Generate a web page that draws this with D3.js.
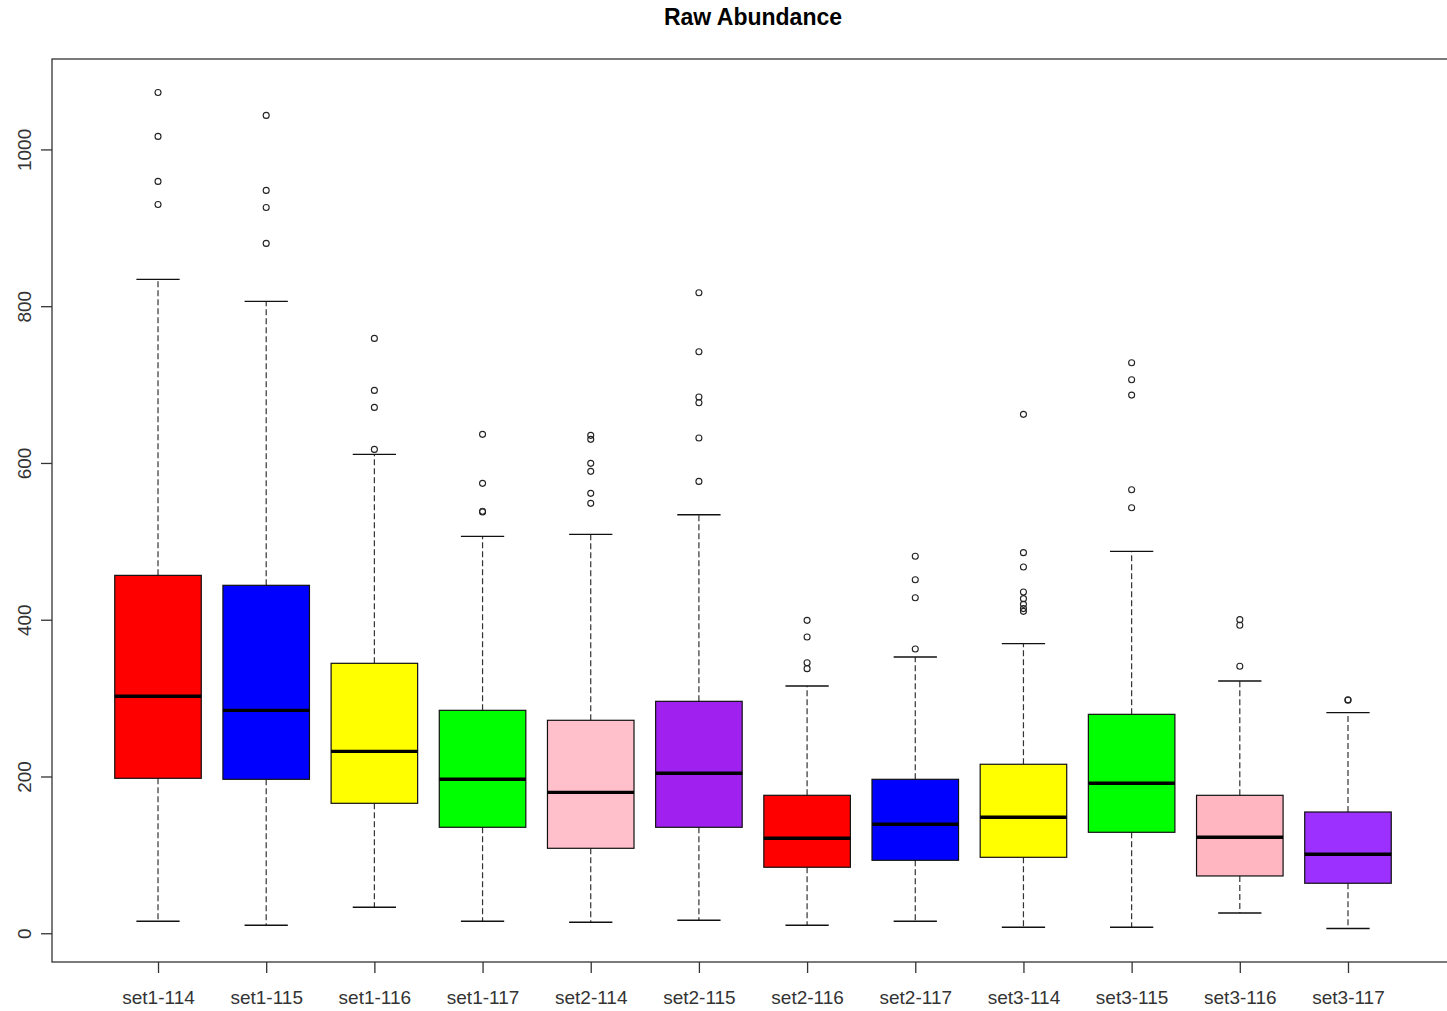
<!DOCTYPE html>
<html>
<head>
<meta charset="utf-8">
<script src="https://cdn.jsdelivr.net/npm/d3@7"></script>
<style>
  html, body { margin: 0; padding: 0; background: #fff; }
  svg { display: block; font-family: "Liberation Sans", Arial, sans-serif; }
</style>
</head>
<body>
<svg id="chart" width="1447" height="1011"></svg>
<script>
// Box-and-whisker summary of raw abundance per channel
const categories = ["set1-114","set1-115","set1-116","set1-117","set2-114","set2-115",
                    "set2-116","set2-117","set3-114","set3-115","set3-116","set3-117"];
const lowerWhisker = [15.3, 10.2, 33.2, 15.3, 14.0, 16.6, 10.2, 15.3, 7.7, 7.7, 25.9, 6.0];
const q1           = [197.7, 196.4, 165.8, 135.2, 108.4, 135.2, 84.2, 93.1, 96.9, 128.8, 73.1, 63.8];
const median       = [302.3, 284.4, 232.1, 196.4, 179.8, 204.1, 121.2, 139.0, 148.0, 191.3, 122.4, 100.8];
const q3           = [456.6, 443.9, 344.4, 284.4, 271.7, 295.9, 176.0, 196.4, 215.6, 279.3, 176.0, 154.7];
const upperWhisker = [834.2, 806.1, 611.0, 506.4, 508.9, 534.0, 315.5, 352.5, 369.5, 487.2, 321.9, 281.5];
const outliers = [
  [1072.7, 1016.6, 959.2, 929.8],
  [1043.4, 947.7, 926.0, 880.1],
  [758.9, 692.6, 670.9, 617.3],
  [636.5, 574.0, 538.3, 537.5],
  [635.2, 630.1, 599.5, 589.3, 561.2, 548.5],
  [817.2, 741.8, 684.1, 676.9, 631.8, 576.5],
  [399.2, 377.9, 345.2, 337.6],
  [480.9, 451.0, 428.1, 362.7],
  [662.0, 485.6, 467.2, 435.3, 426.9, 419.6, 414.2, 410.7],
  [727.9, 706.2, 686.6, 565.9, 542.9],
  [400.1, 392.9, 340.6],
  [297.2, 298.0]
];
const fills = ["#FF0000","#0000FF","#FFFF00","#00FF00","#FFC0CB","#A020F0",
               "#FF0000","#0000FF","#FFFF00","#00FF00","#FFB6C1","#9B30FF"];
const yTicks = [0, 200, 400, 600, 800, 1000];
const title = "Raw Abundance";

const svg = d3.select("#chart");
const plot = { left: 52, right: 1454, top: 59, bottom: 962 };

// Ranges padded 4% beyond the data, as in a base-graphics boxplot
const n = categories.length;
const allVals = lowerWhisker.concat(upperWhisker, outliers.flat());
const yMin = d3.min(allVals), yMax = d3.max(allVals);
const yPad = (yMax - yMin) * 0.04;
const xPad = n * 0.04;

const x = d3.scaleLinear().domain([0.5 - xPad, n + 0.5 + xPad]).range([plot.left, plot.right]);
const y = d3.scaleLinear().domain([yMin - yPad, yMax + yPad]).range([plot.bottom, plot.top]);

const boxHalf = x(1.4) - x(1);   // box width 0.8 units
const capHalf = boxHalf / 2;

const data = categories.map((c, i) => ({
  name: c, i: i + 1, lo: lowerWhisker[i], q1: q1[i], med: median[i], q3: q3[i],
  hi: upperWhisker[i], out: outliers[i], fill: fills[i]
}));

const g = svg.append("g");

// whiskers (dashed)
g.selectAll(".whisk-lo").data(data).join("line")
  .attr("x1", d => x(d.i)).attr("x2", d => x(d.i))
  .attr("y1", d => y(d.q1)).attr("y2", d => y(d.lo))
  .attr("stroke", "#333").attr("stroke-width", 1.2).attr("stroke-dasharray", "6,3");
g.selectAll(".whisk-hi").data(data).join("line")
  .attr("x1", d => x(d.i)).attr("x2", d => x(d.i))
  .attr("y1", d => y(d.q3)).attr("y2", d => y(d.hi))
  .attr("stroke", "#333").attr("stroke-width", 1.2).attr("stroke-dasharray", "6,3");

// staples
g.selectAll(".cap-lo").data(data).join("line")
  .attr("x1", d => x(d.i) - capHalf).attr("x2", d => x(d.i) + capHalf)
  .attr("y1", d => y(d.lo)).attr("y2", d => y(d.lo))
  .attr("stroke", "#111").attr("stroke-width", 1.4);
g.selectAll(".cap-hi").data(data).join("line")
  .attr("x1", d => x(d.i) - capHalf).attr("x2", d => x(d.i) + capHalf)
  .attr("y1", d => y(d.hi)).attr("y2", d => y(d.hi))
  .attr("stroke", "#111").attr("stroke-width", 1.4);

// boxes
g.selectAll(".box").data(data).join("rect")
  .attr("x", d => x(d.i) - boxHalf).attr("width", boxHalf * 2)
  .attr("y", d => y(d.q3)).attr("height", d => y(d.q1) - y(d.q3))
  .attr("fill", d => d.fill).attr("stroke", "#111").attr("stroke-width", 1.2);

// medians
g.selectAll(".med").data(data).join("line")
  .attr("x1", d => x(d.i) - boxHalf).attr("x2", d => x(d.i) + boxHalf)
  .attr("y1", d => y(d.med)).attr("y2", d => y(d.med))
  .attr("stroke", "#000").attr("stroke-width", 3.4);

// outliers
data.forEach(d => {
  g.selectAll(null).data(d.out).join("circle")
    .attr("cx", x(d.i)).attr("cy", v => y(v)).attr("r", 3)
    .attr("fill", "none").attr("stroke", "#222").attr("stroke-width", 1.1);
});

// frame
svg.append("rect")
  .attr("x", plot.left).attr("y", plot.top)
  .attr("width", plot.right - plot.left).attr("height", plot.bottom - plot.top)
  .attr("fill", "none").attr("stroke", "#333").attr("stroke-width", 1.3);

// y axis
const yAxis = svg.append("g").attr("transform", `translate(${plot.left},0)`)
  .call(d3.axisLeft(y).tickValues(yTicks).tickSize(11).tickFormat(d3.format("d")));
yAxis.select(".domain").remove();
yAxis.selectAll(".tick line").attr("stroke", "#333").attr("stroke-width", 1.3);
yAxis.selectAll(".tick text")
  .attr("x", null).attr("dy", null)
  .attr("transform", "translate(-21,0) rotate(-90)")
  .attr("text-anchor", "middle")
  .attr("font-family", "Liberation Sans, Arial, sans-serif")
  .attr("font-size", 19).attr("fill", "#333");

// x axis
const xAxis = svg.append("g").attr("transform", `translate(0,${plot.bottom})`)
  .call(d3.axisBottom(x).tickValues(d3.range(1, n + 1)).tickSize(11)
        .tickFormat(i => categories[i - 1]));
xAxis.select(".domain").remove();
xAxis.selectAll(".tick line").attr("stroke", "#333").attr("stroke-width", 1.3);
xAxis.selectAll(".tick text")
  .attr("y", 42).attr("dy", null)
  .attr("font-family", "Liberation Sans, Arial, sans-serif")
  .attr("font-size", 19).attr("fill", "#333");

// title
svg.append("text")
  .attr("x", (plot.left + plot.right) / 2).attr("y", 25)
  .attr("text-anchor", "middle")
  .attr("font-size", 23).attr("font-weight", "bold").attr("fill", "#000")
  .text(title);
</script>
</body>
</html>
